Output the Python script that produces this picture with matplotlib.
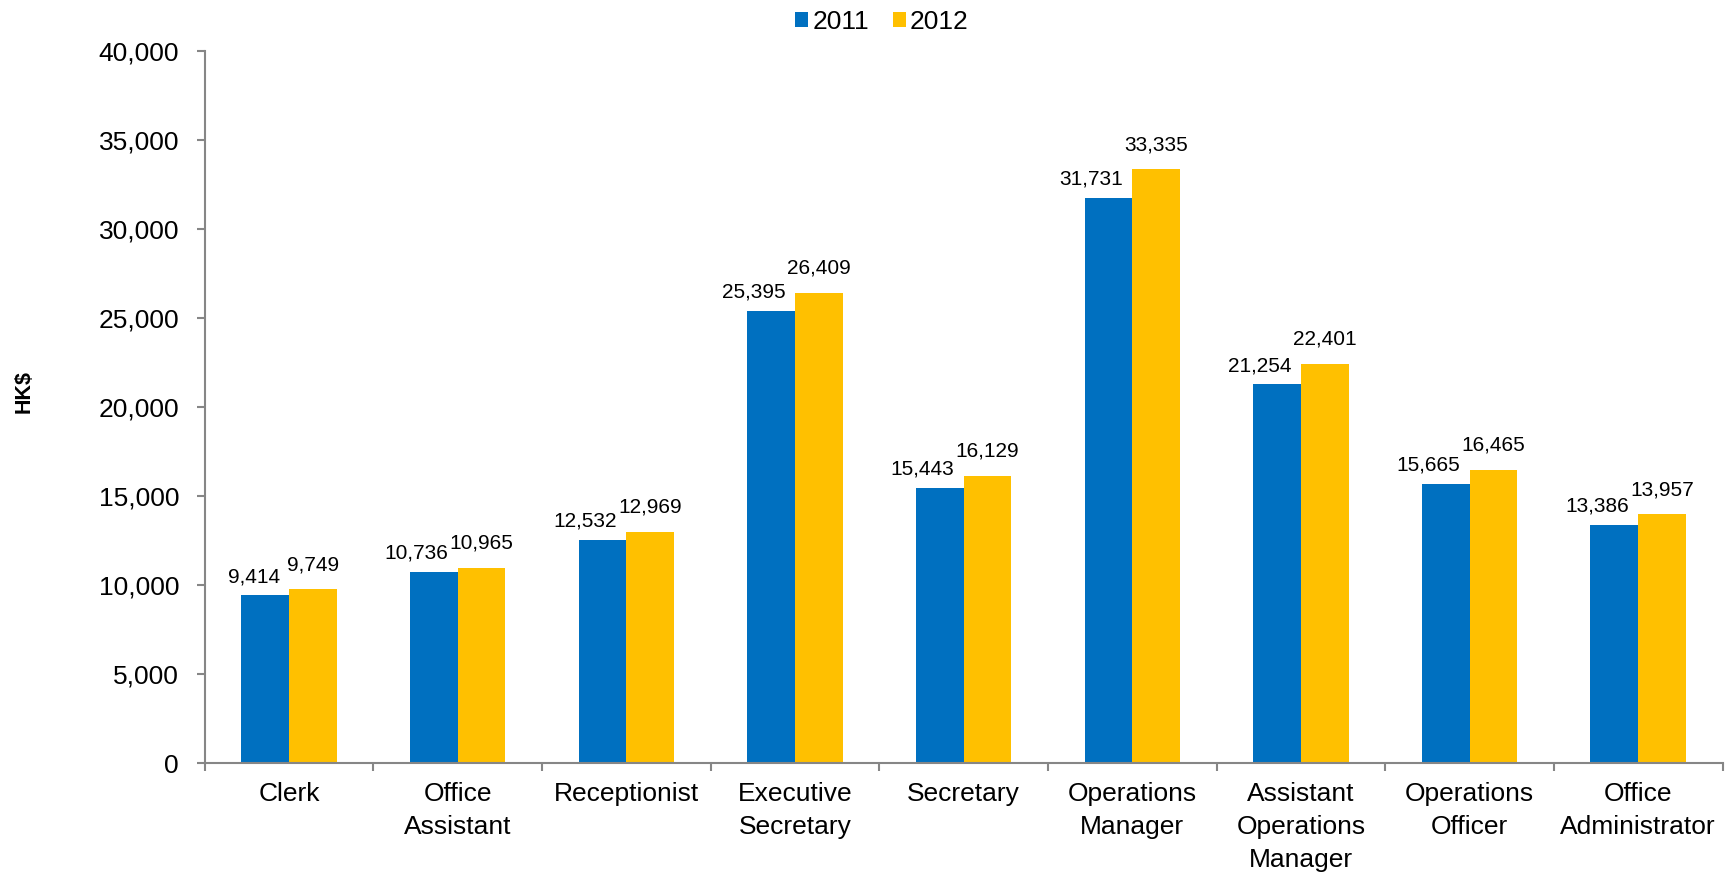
import matplotlib
matplotlib.use("Agg")
import matplotlib.pyplot as plt
import numpy as np

plt.rcParams['font.family'] = ['Liberation Sans', 'DejaVu Sans']

categories = ["Clerk", "Office\nAssistant", "Receptionist", "Executive\nSecretary",
              "Secretary", "Operations\nManager", "Assistant\nOperations\nManager",
              "Operations\nOfficer", "Office\nAdministrator"]
salary_2011 = [9414, 10736, 12532, 25395, 15443, 31731, 21254, 15665, 13386]
salary_2012 = [9749, 10965, 12969, 26409, 16129, 33335, 22401, 16465, 13957]
series_names = ["2011", "2012"]
y_ticks = [0, 5000, 10000, 15000, 20000, 25000, 30000, 35000, 40000]

blue = "#0070C0"
gold = "#FFC000"
axis_grey = "#868686"

fig = plt.figure(figsize=(17.26, 8.73), dpi=100)
ax = fig.add_axes([0.1186, 0.126, 0.8794, 0.816])

x = np.arange(len(categories))
w = 0.283
x_2011 = x - w / 2
x_2012 = x + w / 2
b1 = ax.bar(x_2011, salary_2011, width=w, color=blue, label=series_names[0])
b2 = ax.bar(x_2012, salary_2012, width=w, color=gold, label=series_names[1])

# 2011 labels sit right-aligned just inside the bar's right edge,
# 2012 labels are centred a little higher so the pair never collides
for xi, v in zip(x_2011, salary_2011):
    ax.annotate(f"{v:,}", xy=(xi + w / 2 - 0.055, v), xytext=(0, 6.5),
                textcoords="offset points", ha="right", va="bottom", fontsize=15)
for xi, v in zip(x_2012, salary_2012):
    ax.annotate(f"{v:,}", xy=(xi, v), xytext=(0, 11),
                textcoords="offset points", ha="center", va="bottom", fontsize=15)

ax.set_xlim(-0.5, len(categories) - 0.5)
ax.set_ylim(0, 40000)
ax.set_yticks(y_ticks)
ax.set_yticklabels([f"{t:,}" for t in y_ticks], fontsize=19)

ax.set_xticks(x)
ax.set_xticklabels(categories, fontsize=19, linespacing=1.45, va="top")
ax.set_xticks(np.arange(len(categories) + 1) - 0.5, minor=True)
ax.tick_params(axis="x", which="major", length=0, pad=14)
ax.tick_params(axis="x", which="minor", length=6, width=1.5, color=axis_grey, direction="out")
ax.tick_params(axis="y", length=5.5, width=1.5, color=axis_grey, pad=13)

for side in ["top", "right"]:
    ax.spines[side].set_visible(False)
for side in ["left", "bottom"]:
    ax.spines[side].set_color(axis_grey)
    ax.spines[side].set_linewidth(1.5)

fig.text(0.0139, 0.552, "HK$", rotation=90, fontsize=15.5, fontweight="bold",
         ha="center", va="center")

fig.legend(handles=[b1, b2], labels=series_names, loc="center", ncol=2,
           bbox_to_anchor=(0.511, 0.975), frameon=False, fontsize=19,
           handlelength=0.5, handleheight=0.5, handletextpad=0.15, columnspacing=0.9)

fig.savefig("out.png", dpi=100)
